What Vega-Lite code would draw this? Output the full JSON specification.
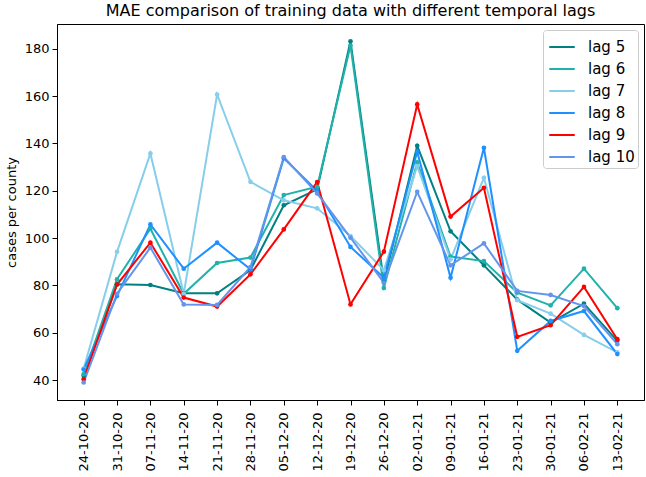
{
  "$schema": "https://vega.github.io/schema/vega-lite/v6.json",
  "autosize": {"type": "none"},
  "width": 587,
  "height": 376,
  "padding": {"left": 57, "top": 24, "right": 2, "bottom": 77},
  "title": {
    "text": "MAE comparison of training data with different temporal lags",
    "font": "DejaVu Sans",
    "fontSize": 16,
    "fontWeight": "normal",
    "color": "black",
    "anchor": "middle",
    "offset": 5
  },
  "config": {
    "view": {"stroke": "black", "strokeWidth": 1},
    "axis": {
      "domainColor": "black",
      "tickColor": "black",
      "tickSize": 5,
      "labelColor": "black",
      "labelFont": "DejaVu Sans",
      "labelFontSize": 13,
      "titleFont": "DejaVu Sans",
      "titleFontSize": 13,
      "titleFontWeight": "normal",
      "titleColor": "black",
      "grid": false
    }
  },
  "data": {
    "values": [
      {"date": "24-10-20", "lag": "lag 5", "mae": 41.8},
      {"date": "31-10-20", "lag": "lag 5", "mae": 80.5},
      {"date": "07-11-20", "lag": "lag 5", "mae": 80.2},
      {"date": "14-11-20", "lag": "lag 5", "mae": 76.7},
      {"date": "21-11-20", "lag": "lag 5", "mae": 76.7},
      {"date": "28-11-20", "lag": "lag 5", "mae": 86.5},
      {"date": "05-12-20", "lag": "lag 5", "mae": 113.9},
      {"date": "12-12-20", "lag": "lag 5", "mae": 120.6},
      {"date": "19-12-20", "lag": "lag 5", "mae": 183.2},
      {"date": "26-12-20", "lag": "lag 5", "mae": 81.5},
      {"date": "02-01-21", "lag": "lag 5", "mae": 139.0},
      {"date": "09-01-21", "lag": "lag 5", "mae": 102.9},
      {"date": "16-01-21", "lag": "lag 5", "mae": 88.5},
      {"date": "23-01-21", "lag": "lag 5", "mae": 74.0},
      {"date": "30-01-21", "lag": "lag 5", "mae": 64.3},
      {"date": "06-02-21", "lag": "lag 5", "mae": 72.3},
      {"date": "13-02-21", "lag": "lag 5", "mae": 56.6},
      {"date": "24-10-20", "lag": "lag 6", "mae": 42.5},
      {"date": "31-10-20", "lag": "lag 6", "mae": 82.6},
      {"date": "07-11-20", "lag": "lag 6", "mae": 104.0},
      {"date": "14-11-20", "lag": "lag 6", "mae": 76.5},
      {"date": "21-11-20", "lag": "lag 6", "mae": 89.5},
      {"date": "28-11-20", "lag": "lag 6", "mae": 91.8},
      {"date": "05-12-20", "lag": "lag 6", "mae": 118.2},
      {"date": "12-12-20", "lag": "lag 6", "mae": 121.7},
      {"date": "19-12-20", "lag": "lag 6", "mae": 181.4},
      {"date": "26-12-20", "lag": "lag 6", "mae": 78.9},
      {"date": "02-01-21", "lag": "lag 6", "mae": 132.0},
      {"date": "09-01-21", "lag": "lag 6", "mae": 92.2},
      {"date": "16-01-21", "lag": "lag 6", "mae": 90.3},
      {"date": "23-01-21", "lag": "lag 6", "mae": 77.0},
      {"date": "30-01-21", "lag": "lag 6", "mae": 71.6},
      {"date": "06-02-21", "lag": "lag 6", "mae": 87.1},
      {"date": "13-02-21", "lag": "lag 6", "mae": 70.4},
      {"date": "24-10-20", "lag": "lag 7", "mae": 44.9},
      {"date": "31-10-20", "lag": "lag 7", "mae": 94.2},
      {"date": "07-11-20", "lag": "lag 7", "mae": 135.8},
      {"date": "14-11-20", "lag": "lag 7", "mae": 76.5},
      {"date": "21-11-20", "lag": "lag 7", "mae": 160.7},
      {"date": "28-11-20", "lag": "lag 7", "mae": 123.8},
      {"date": "05-12-20", "lag": "lag 7", "mae": 116.0},
      {"date": "12-12-20", "lag": "lag 7", "mae": 112.6},
      {"date": "19-12-20", "lag": "lag 7", "mae": 100.9},
      {"date": "26-12-20", "lag": "lag 7", "mae": 86.5},
      {"date": "02-01-21", "lag": "lag 7", "mae": 130.4},
      {"date": "09-01-21", "lag": "lag 7", "mae": 91.0},
      {"date": "16-01-21", "lag": "lag 7", "mae": 125.5},
      {"date": "23-01-21", "lag": "lag 7", "mae": 73.8},
      {"date": "30-01-21", "lag": "lag 7", "mae": 68.1},
      {"date": "06-02-21", "lag": "lag 7", "mae": 59.1},
      {"date": "13-02-21", "lag": "lag 7", "mae": 51.7},
      {"date": "24-10-20", "lag": "lag 8", "mae": 44.5},
      {"date": "31-10-20", "lag": "lag 8", "mae": 75.6},
      {"date": "07-11-20", "lag": "lag 8", "mae": 105.8},
      {"date": "14-11-20", "lag": "lag 8", "mae": 87.1},
      {"date": "21-11-20", "lag": "lag 8", "mae": 98.1},
      {"date": "28-11-20", "lag": "lag 8", "mae": 86.8},
      {"date": "05-12-20", "lag": "lag 8", "mae": 133.8},
      {"date": "12-12-20", "lag": "lag 8", "mae": 120.0},
      {"date": "19-12-20", "lag": "lag 8", "mae": 96.3},
      {"date": "26-12-20", "lag": "lag 8", "mae": 83.3},
      {"date": "02-01-21", "lag": "lag 8", "mae": 136.5},
      {"date": "09-01-21", "lag": "lag 8", "mae": 83.3},
      {"date": "16-01-21", "lag": "lag 8", "mae": 138.2},
      {"date": "23-01-21", "lag": "lag 8", "mae": 52.4},
      {"date": "30-01-21", "lag": "lag 8", "mae": 65.0},
      {"date": "06-02-21", "lag": "lag 8", "mae": 69.2},
      {"date": "13-02-21", "lag": "lag 8", "mae": 51.0},
      {"date": "24-10-20", "lag": "lag 9", "mae": 40.4},
      {"date": "31-10-20", "lag": "lag 9", "mae": 80.4},
      {"date": "07-11-20", "lag": "lag 9", "mae": 98.1},
      {"date": "14-11-20", "lag": "lag 9", "mae": 74.9},
      {"date": "21-11-20", "lag": "lag 9", "mae": 71.1},
      {"date": "28-11-20", "lag": "lag 9", "mae": 84.7},
      {"date": "05-12-20", "lag": "lag 9", "mae": 103.7},
      {"date": "12-12-20", "lag": "lag 9", "mae": 123.7},
      {"date": "19-12-20", "lag": "lag 9", "mae": 72.0},
      {"date": "26-12-20", "lag": "lag 9", "mae": 94.3},
      {"date": "02-01-21", "lag": "lag 9", "mae": 156.5},
      {"date": "09-01-21", "lag": "lag 9", "mae": 109.1},
      {"date": "16-01-21", "lag": "lag 9", "mae": 121.3},
      {"date": "23-01-21", "lag": "lag 9", "mae": 58.3},
      {"date": "30-01-21", "lag": "lag 9", "mae": 63.2},
      {"date": "06-02-21", "lag": "lag 9", "mae": 79.4},
      {"date": "13-02-21", "lag": "lag 9", "mae": 57.3},
      {"date": "24-10-20", "lag": "lag 10", "mae": 39.0},
      {"date": "31-10-20", "lag": "lag 10", "mae": 76.5},
      {"date": "07-11-20", "lag": "lag 10", "mae": 96.0},
      {"date": "14-11-20", "lag": "lag 10", "mae": 72.0},
      {"date": "21-11-20", "lag": "lag 10", "mae": 71.8},
      {"date": "28-11-20", "lag": "lag 10", "mae": 87.8},
      {"date": "05-12-20", "lag": "lag 10", "mae": 134.3},
      {"date": "12-12-20", "lag": "lag 10", "mae": 118.9},
      {"date": "19-12-20", "lag": "lag 10", "mae": 100.2},
      {"date": "26-12-20", "lag": "lag 10", "mae": 81.2},
      {"date": "02-01-21", "lag": "lag 10", "mae": 119.6},
      {"date": "09-01-21", "lag": "lag 10", "mae": 88.5},
      {"date": "16-01-21", "lag": "lag 10", "mae": 97.8},
      {"date": "23-01-21", "lag": "lag 10", "mae": 77.7},
      {"date": "30-01-21", "lag": "lag 10", "mae": 76.0},
      {"date": "06-02-21", "lag": "lag 10", "mae": 71.3},
      {"date": "13-02-21", "lag": "lag 10", "mae": 55.2}
    ]
  },
  "mark": {"type": "line", "strokeWidth": 2, "point": {"filled": true, "size": 22}},
  "encoding": {
    "x": {
      "field": "date",
      "type": "ordinal",
      "sort": null,
      "title": null,
      "scale": {"type": "point", "padding": 0.8},
      "axis": {"labelAngle": 270, "labelAlign": "right", "labelBaseline": "middle", "labelPadding": 7}
    },
    "y": {
      "field": "mae",
      "type": "quantitative",
      "title": "cases per county",
      "scale": {"domain": [31.6, 190.5], "nice": false, "zero": false},
      "axis": {"values": [40, 60, 80, 100, 120, 140, 160, 180], "labelPadding": 3, "titlePadding": 6}
    },
    "color": {
      "field": "lag",
      "type": "nominal",
      "scale": {
        "domain": ["lag 5", "lag 6", "lag 7", "lag 8", "lag 9", "lag 10"],
        "range": ["#008080", "#20b2aa", "#87ceeb", "#1e90ff", "#ff0000", "#6495ed"]
      },
      "legend": {
        "title": null,
        "orient": "top-right",
        "offset": 6,
        "symbolType": "stroke",
        "symbolSize": 650,
        "symbolStrokeWidth": 2,
        "symbolOffset": 2,
        "labelFont": "DejaVu Sans",
        "labelFontSize": 15,
        "labelOffset": 12,
        "labelColor": "black",
        "rowPadding": -2,
        "padding": 3,
        "fillColor": "white",
        "strokeColor": "#cccccc",
        "cornerRadius": 3
      }
    }
  }
}
